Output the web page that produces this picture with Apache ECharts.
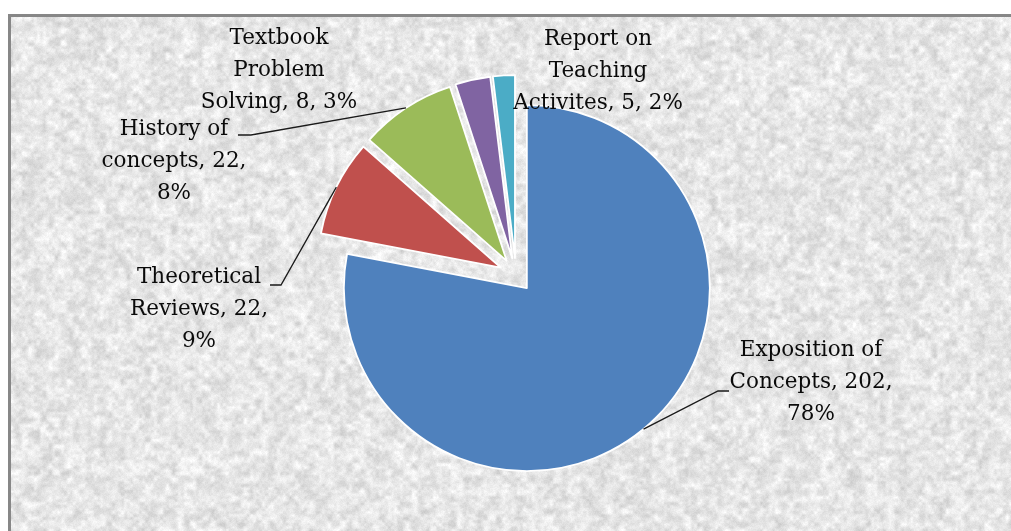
<!DOCTYPE html>
<html>
<head>
<meta charset="utf-8">
<script src="https://cdn.jsdelivr.net/npm/echarts@6/dist/echarts.min.js"></script>
<style>
  html, body { margin: 0; padding: 0; background: #fff; overflow: hidden; }
  #wrap { position: relative; width: 1011px; height: 531px; overflow: hidden; }
  #frame {
    position: absolute; left: 8px; top: 14px; width: 1100px; height: 600px;
    border-top: 3px solid #878787; border-left: 3px solid #878787;
    background-color: #e6e6e6; background-repeat: no-repeat;
  }
  #chart { position: absolute; left: 0; top: 0; width: 1011px; height: 531px; }
</style>
</head>
<body>
<div id="wrap"><div id="frame"></div><div id="chart"></div></div>
<script>
// Publication types and their counts
const categories = [
  'Exposition of\nConcepts',
  'Theoretical\nReviews',
  'History of\nconcepts',
  'Textbook\nProblem\nSolving',
  'Report on\nTeaching\nActivites'
];
const counts = [202, 22, 22, 8, 5];
const sliceColors = ['#4F81BD', '#C0504D', '#9BBB59', '#8064A2', '#4BACC6'];

// Granite-like paper texture behind the plot (deterministic value noise)
(function paintTexture() {
  const W = 1011, H = 531;
  const cvs = document.createElement('canvas');
  cvs.width = W; cvs.height = H;
  const ctx = cvs.getContext('2d');
  const img = ctx.createImageData(W, H);
  function hash(x, y) {
    let n = Math.imul(x, 374761393) + Math.imul(y, 668265263);
    n = Math.imul(n ^ (n >>> 13), 1274126177);
    n = n ^ (n >>> 16);
    return (n >>> 0) / 4294967295;
  }
  function smooth(t) { return t * t * (3 - 2 * t); }
  function vnoise(x, y, seed) {
    const xi = Math.floor(x), yi = Math.floor(y);
    const xf = smooth(x - xi), yf = smooth(y - yi);
    const a = hash(xi + seed, yi), b = hash(xi + 1 + seed, yi);
    const c = hash(xi + seed, yi + 1), d = hash(xi + 1 + seed, yi + 1);
    return (a + (b - a) * xf) * (1 - yf) + (c + (d - c) * xf) * yf;
  }
  for (let y = 0; y < H; y++) {
    for (let x = 0; x < W; x++) {
      const v = 0.5 * vnoise(x / 6.5, y / 6.5, 11) + 0.35 * vnoise(x / 3, y / 3, 977) + 0.15 * hash(x * 3 + 7, y * 5 + 1);
      const g = Math.max(0, Math.min(255, 198 + 64 * v));
      const i = (y * W + x) * 4;
      img.data[i] = img.data[i + 1] = img.data[i + 2] = g;
      img.data[i + 3] = 255;
    }
  }
  ctx.putImageData(img, 0, 0);
  document.getElementById('frame').style.backgroundImage = 'url(' + cvs.toDataURL() + ')';
})();

const PIE_CENTER = [516, 275];
const PIE_RADIUS = 183;
const EXPLODE = 17;

// Where each label block sits, and the elbow of its leader line
const labelSpots = [
  { x: 811, y: 382, elbow: [[718, 391], [729, 391]] },
  { x: 199, y: 309, elbow: [[281, 285], [270, 285]] },
  { x: 174, y: 161, elbow: [[251, 135], [238, 135]] },
  { x: 279, y: 70 },
  { x: 598, y: 71 }
];

const pieData = categories.map(function (name, i) {
  return { name: name, value: counts[i] };
});

const chart = echarts.init(document.getElementById('chart'), null, { renderer: 'canvas' });

chart.setOption({
  animation: false,
  backgroundColor: 'transparent',
  series: [
    // The exploded slices
    {
      type: 'pie',
      center: PIE_CENTER,
      radius: PIE_RADIUS,
      startAngle: 90,
      clockwise: true,
      selectedMode: 'multiple',
      selectedOffset: EXPLODE,
      silent: true,
      itemStyle: { borderColor: '#ffffff', borderWidth: 1.8 },
      emphasis: { disabled: true },
      label: { show: false },
      labelLine: { show: false },
      data: pieData.map(function (d, i) {
        return { name: d.name, value: d.value, selected: true, itemStyle: { color: sliceColors[i] } };
      })
    },
    // Data labels with leader lines, laid over the same slices
    {
      type: 'pie',
      center: PIE_CENTER,
      radius: PIE_RADIUS,
      startAngle: 90,
      clockwise: true,
      silent: true,
      percentPrecision: 0,
      avoidLabelOverlap: false,
      z: 3,
      itemStyle: { color: 'rgba(0,0,0,0)', borderWidth: 0 },
      emphasis: { disabled: true },
      label: {
        show: true,
        position: 'outside',
        fontFamily: 'DejaVu Serif',
        fontSize: 21.5,
        lineHeight: 32,
        color: '#0a0a0a',
        align: 'center',
        formatter: function (p) {
          const pctOwnLine = p.name.split('\n').length < 3;
          return p.name + ', ' + p.value + ',' + (pctOwnLine ? '\n' : ' ') + p.percent + '%';
        }
      },
      labelLine: {
        show: true,
        length: 10,
        length2: 10,
        lineStyle: { color: '#1a1a1a', width: 1.3 }
      },
      labelLayout: function (params) {
        const spot = labelSpots[params.dataIndex];
        const out = { x: spot.x, y: spot.y, align: 'center', verticalAlign: 'middle' };
        if (spot.elbow && params.labelLinePoints) {
          // anchor at the middle of the arc of the exploded slice
          const p0 = params.labelLinePoints[0];
          const k = EXPLODE / PIE_RADIUS;
          const anchor = [p0[0] + (p0[0] - PIE_CENTER[0]) * k, p0[1] + (p0[1] - PIE_CENTER[1]) * k];
          out.labelLinePoints = [anchor, spot.elbow[0], spot.elbow[1]];
        }
        return out;
      },
      data: pieData.map(function (d, i) {
        return { name: d.name, value: d.value, labelLine: { show: !!labelSpots[i].elbow } };
      })
    }
  ]
});
</script>
</body>
</html>
